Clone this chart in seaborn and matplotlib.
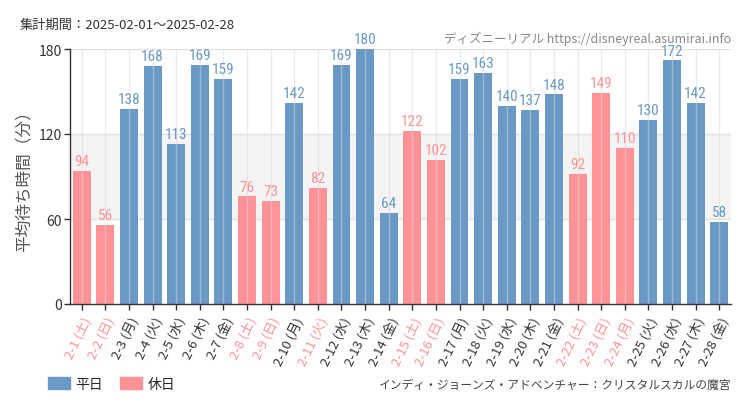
import matplotlib
matplotlib.use("Agg")
import matplotlib.pyplot as plt
import seaborn as sns
import pandas as pd
from matplotlib import font_manager as fm
from matplotlib.patches import Patch

dates = [f"2-{d}" for d in range(1, 29)]
weekdays = ["土", "日", "月", "火", "水", "木", "金"] * 4
values = [94, 56, 138, 168, 113, 169, 159, 76, 73, 142, 82, 169, 180, 64,
          122, 102, 159, 163, 140, 137, 148, 92, 149, 110, 130, 172, 142, 58]
holidays = ["2-11", "2-23", "2-24"]
kinds = ["休日" if (w in ("土", "日") or d in holidays) else "平日"
         for d, w in zip(dates, weekdays)]
labels = [f"{d} ({w})" for d, w in zip(dates, weekdays)]

BLUE = "#6a99c5"
PINK = "#ff9296"

sns.set_theme(style="white")
plt.rcParams['font.family'] = ['Noto Sans CJK JP', 'DejaVu Sans']

names = {f.name for f in fm.fontManager.ttflist}
cond = None
for cand in ["Liberation Sans Narrow", "DejaVu Sans Condensed", "Roboto Condensed", "Open Sans Condensed"]:
    if cand in names:
        cond = cand
        break

df = pd.DataFrame({"label": labels, "value": values, "kind": kinds})

fig = plt.figure(figsize=(7.5, 4.1), dpi=100)
ax = fig.add_axes([70/750, 1-305/410, 661/750, 255/410])

ax.axhspan(60, 120, color="#f4f4f4", zorder=0)
sns.barplot(data=df, x="label", y="value", hue="kind", dodge=False,
            palette={"平日": BLUE, "休日": PINK}, width=0.76,
            saturation=1, legend=False, ax=ax, zorder=2, linewidth=0)
ax.set_ylim(0, 180)
ax.set_xlim(-0.5, 27.5)
ax.set_yticks([0, 60, 120, 180])
for y in [60, 120, 180]:
    ax.axhline(y, color="#e2e2e2", lw=1, zorder=1)
for i in range(28):
    ax.axvline(i, color="#d8d8d8", lw=1, zorder=3, alpha=0.5)

for i, (v, k) in enumerate(zip(values, kinds)):
    kw = dict(fontfamily=cond) if cond else dict(fontstretch="condensed")
    ax.text(i, v + 2, str(v), ha="center", va="bottom", fontsize=11,
            color=BLUE if k == "平日" else PINK, zorder=5, **kw)

for s in ["top", "right"]:
    ax.spines[s].set_visible(False)
for s in ["left", "bottom"]:
    ax.spines[s].set_color("#333333")
    ax.spines[s].set_linewidth(1)
ax.tick_params(axis="both", length=4, width=1, color="#333333", direction="out",
               bottom=True, left=True)
ax.tick_params(axis="y", labelsize=10, labelcolor="#333333", pad=2)
ax.set_xticks(range(28))
ax.set_xticklabels(labels, rotation=64, ha="right", rotation_mode="anchor",
                   fontsize=9.5)
for t, k in zip(ax.get_xticklabels(), kinds):
    t.set_color(PINK if k == "休日" else "#333333")
ax.set_xlabel("")
ax.set_ylabel("平均待ち時間（分）", fontsize=12, color="#555555", labelpad=4)

fig.text(20/750, 1-25/410, "集計期間：2025-02-01～2025-02-28", fontsize=9.5,
         color="#333333", va="center")
fig.text(731/750, 1-39/410, "ディズニーリアル https://disneyreal.asumirai.info",
         fontsize=9, color="#888888", ha="right", va="center")
fig.text(731/750, 1-385/410, "インディ・ジョーンズ・アドベンチャー：クリスタルスカルの魔宮",
         fontsize=8.5, color="#444444", ha="right", va="center")

handles = [Patch(color=BLUE, label="平日"), Patch(color=PINK, label="休日")]
fig.legend(handles=handles, loc="center left", bbox_to_anchor=(35/750, 1-385/410),
           ncol=2, frameon=False, fontsize=10, handlelength=1.6, handleheight=1.0,
           columnspacing=1.2, handletextpad=0.4)

fig.savefig("out.png", dpi=100)
